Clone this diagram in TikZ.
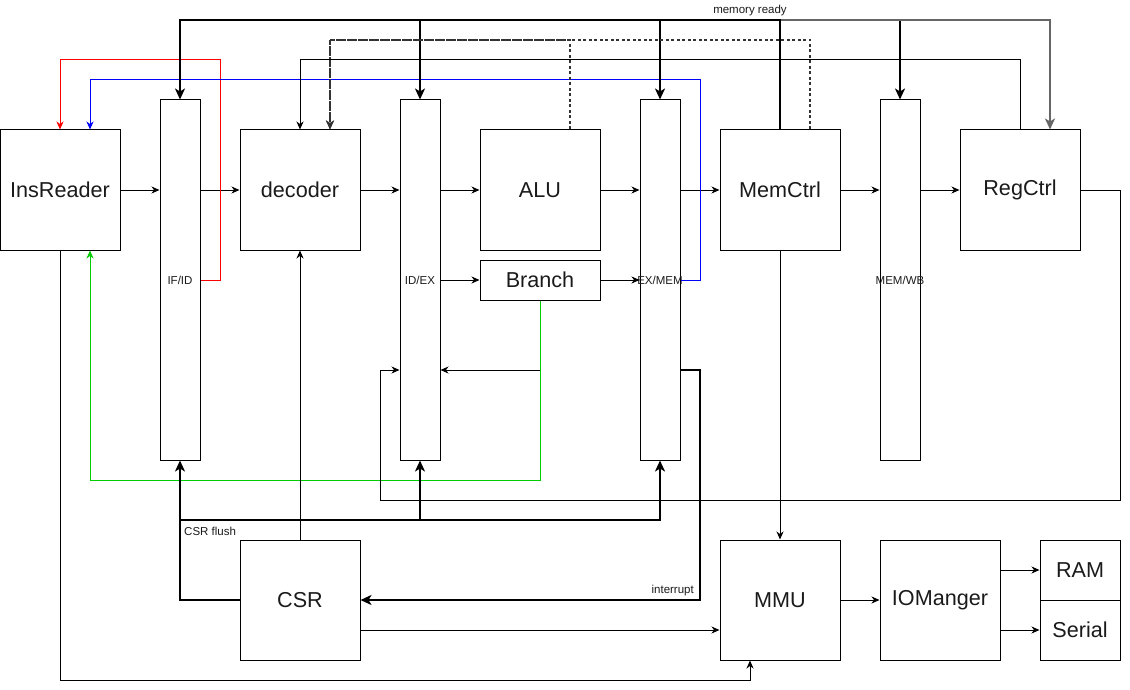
\documentclass[tikz,border=0pt]{standalone}
\usepackage{fontspec}
\setmainfont{Liberation Sans}
\usetikzlibrary{arrows.meta,calc}
\definecolor{lgray}{HTML}{666666}
\definecolor{lgreen}{HTML}{00CC00}
\definecolor{txt}{HTML}{1A1A1A}
\tikzset{
  box/.style={draw, line width=1pt, minimum width=120pt, minimum height=120pt, inner sep=0pt, text=txt, font=\fontsize{21.6}{26}\selectfont},
  smallbox/.style={draw, line width=1pt, minimum width=80pt, minimum height=60pt, inner sep=0pt, text=txt, font=\fontsize{21.6}{26}\selectfont},
  branchbox/.style={draw, line width=1pt, minimum width=120pt, minimum height=40pt, inner sep=0pt, text=txt, font=\fontsize{21.6}{26}\selectfont},
  latch/.style={draw, line width=1pt, minimum width=40pt, minimum height=360pt, inner sep=0pt},
  lbl/.style={font=\fontsize{11.5}{13}\selectfont, inner sep=0pt, text=txt},
  thin/.style={line width=1pt, -{Stealth[length=8pt,width=7pt,inset=2.5pt]}},
  thk/.style={line width=2pt, -{Stealth[length=11pt,width=10pt,inset=3pt]}},
  dsh/.style={line width=1.5pt, -{Stealth[length=9pt,width=8pt,inset=2.5pt]}, dash pattern=on 3pt off 2.5pt, draw=black!80},
}
\begin{document}
\begin{tikzpicture}[x=1pt,y=-1pt]
\useasboundingbox (0,0) rectangle (1130,690);
% nodes
\node[box] (ins) at (60,190) {InsReader};
\node[latch, label={[lbl]center:IF/ID}] (ifid) at (180,280) {};
\node[box] (dec) at (300,190) {decoder};
\node[latch, label={[lbl]center:ID/EX}] (idex) at (420,280) {};
\node[box] (alu) at (540,190) {ALU};
\node[branchbox] (br) at (540,280) {Branch};
\node[latch, label={[lbl]center:EX/MEM}] (exmem) at (660,280) {};
\node[box] (mem) at (780,190) {MemCtrl};
\node[latch, label={[lbl]center:MEM/WB}] (memwb) at (900,280) {};
\node[box] (reg) at (1020,190) {RegCtrl};
\node[box] (csr) at (300,600) {CSR};
\node[box] (mmu) at (780,600) {MMU};
\node[box] (io) at (940,600) {IOManger};
\node[smallbox] (ram) at (1080,570) {RAM};
\node[smallbox] (ser) at (1080,630) {Serial};

% main pipeline arrows
\draw[thin] (ins.east) -- (ins.east -| ifid.west);
\draw[thin] (ifid.east |- dec.west) -- (dec.west);
\draw[thin] (dec.east) -- (dec.east -| idex.west);
\draw[thin] (idex.east |- alu.west) -- (alu.west);
\draw[thin] (alu.east) -- (alu.east -| exmem.west);
\draw[thin] (exmem.east |- mem.west) -- (mem.west);
\draw[thin] (mem.east) -- (mem.east -| memwb.west);
\draw[thin] (memwb.east |- reg.west) -- (reg.west);
\draw[thin] (idex.east) -- (br.west);
\draw[thin] (br.east) -- (exmem.west);

% red / blue feedback
\draw[thin, red] (ifid.east) -- (220,280) -- (220,60) -- (60,60) -- (ins.north);
\draw[thin, blue] (exmem.east) -- (700,280) -- (700,80) -- (90,80) -- ($(ins.north)+(30,0)$);

% memory ready (thick)
\draw[thk] (mem.north) -- (780,20) -- (900,20) -- (memwb.north);
\draw[thk, lgray] (mem.north) -- (780,20) -- (1050,20) -- ($(reg.north)+(30,0)$);
\draw[thk] (mem.north) -- (780,20) -- (180,20) -- (ifid.north);
\draw[thk] (mem.north) -- (780,20) -- (420,20) -- (idex.north);
\draw[thk] (mem.north) -- (780,20) -- (660,20) -- (exmem.north);
\node[lbl] (mr) at (750,11) {memory ready};

% dashed to decoder
\draw[dsh] ($(alu.north)+(30,0)$) -- (570,40) -- (330,40) -- ($(dec.north)+(30,0)$);
\draw[dsh] ($(mem.north)+(30,0)$) -- (810,40) -- (330,40) -- ($(dec.north)+(30,0)$);

% RegCtrl to decoder
\draw[thin] (reg.north) -- (1020,60) -- (300,60) -- (dec.north);

% Branch feedback
\draw[thin] (br.south) -- (540,370) -- ($(idex.east)+(0,90)$);
\draw[thin, lgreen] (br.south) -- (540,480) -- (90,480) -- ($(ins.south)+(30,0)$);

% RegCtrl writeback to ID/EX
\draw[thin] (reg.east) -- (1120,190) -- (1120,500) -- (380,500) -- (380,370) -- ($(idex.west)+(0,90)$);

% CSR flush
\draw[thk] (csr.west) -- (180,600) -- (ifid.south);
\draw[thk] (csr.west) -- (180,600) -- (180,520) -- (420,520) -- (idex.south);
\draw[thk] (csr.west) -- (180,600) -- (180,520) -- (660,520) -- (exmem.south);
\node[lbl, anchor=west] (csrf) at (184,531) {CSR flush};

% interrupt
\draw[thk] ($(exmem.east)+(0,90)$) -- (700,370) -- (700,600) -- (csr.east);
\node[lbl, anchor=east] (intr) at (694,591) {interrupt};

% CSR to decoder, CSR to MMU
\draw[thin] (csr.north) -- (dec.south);
\draw[thin] ($(csr.east)+(0,30)$) -- ($(mmu.west)+(0,30)$);

% InsReader to MMU
\draw[thin] (ins.south) -- (60,680) -- (750,680) -- ($(mmu.south)+(-30,0)$);

% memory side
\draw[thin] (mem.south) -- (mmu.north);
\draw[thin] (mmu.east) -- (io.west);
\draw[thin] ($(io.east)+(0,-30)$) -- (ram.west);
\draw[thin] ($(io.east)+(0,30)$) -- (ser.west);
\end{tikzpicture}
\end{document}
